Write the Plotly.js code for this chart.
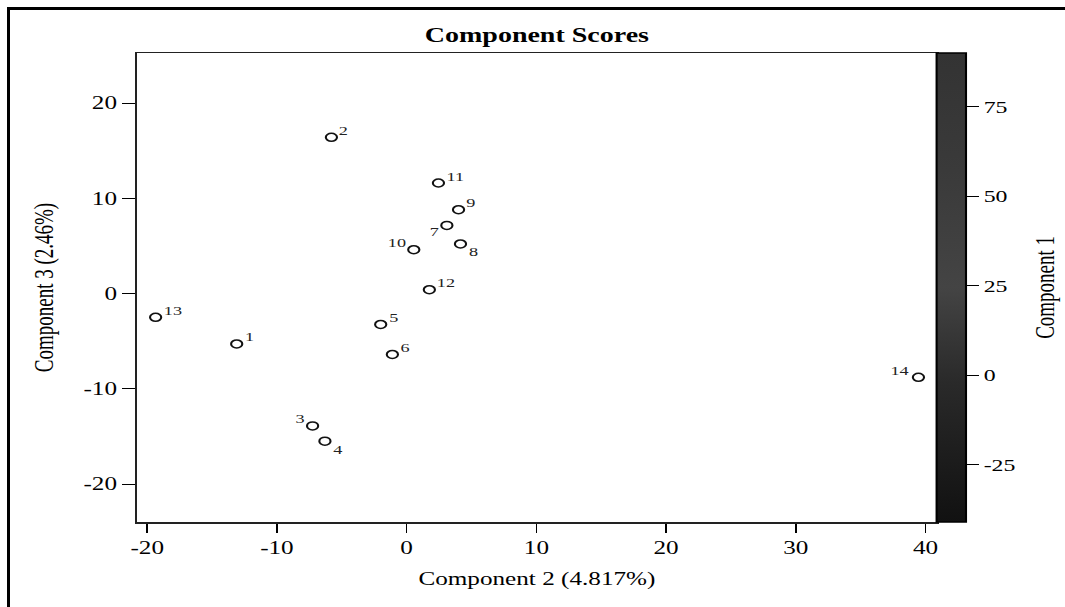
<!DOCTYPE html>
<html>
<head>
<meta charset="utf-8">
<script src="https://cdn.plot.ly/plotly-3.0.1.min.js"></script>
<style>
  html, body { margin: 0; padding: 0; background: #fff; overflow: hidden; }
  #frame { position: absolute; left: 7px; top: 7px; width: 1058px; height: 597px;
           border-left: 3px solid #000; border-top: 3px solid #000; border-bottom: 1px solid #aaa; }
  #chart { position: absolute; left: 0; top: 0; width: 761px; height: 607px;
           transform: scaleX(1.4); transform-origin: 0 0; }
</style>
</head>
<body>
<div id="frame"></div>
<div id="chart"></div>
<script>
// Observation labels
const labels = ["1","2","3","4","5","6","7","8","9","10","11","12","13","14"];
// Component 2 scores (x)
const comp2 = [-13.1, -5.8, -7.25, -6.3, -2.0, -1.1, 3.1, 4.15, 4.0, 0.55, 2.45, 1.75, -19.35, 39.45];
// Component 3 scores (y)
const comp3 = [-5.3, 16.4, -13.9, -15.5, -3.25, -6.4, 7.15, 5.2, 8.8, 4.6, 11.6, 0.4, -2.5, -8.8];
// Label position relative to each point
const labelPos = ["tr","tr","tl","br","tr","tr","bl","br","tr","tl","tr","tr","tr","tl"];
// Axis ticks
const xTickVals = [-20, -10, 0, 10, 20, 30, 40];
const xTickText = ["-20", "-10", "0", "10", "20", "30", "40"];
const yTickVals = [-20, -10, 0, 10, 20];
const yTickText = ["-20", "-10", "0", "10", "20"];
// Colour scale (Component 1)
const comp1Range = [-41, 90];
const comp1Ticks = [-25, 0, 25, 50, 75];
const comp1TickText = ["-25", "0", "25", "50", "75"];

const serif = "Liberation Serif, Times New Roman, serif";

const posStyle = {
  tr: { xanchor: "left",  xshift: 3.6,  yshift: 7 },
  br: { xanchor: "left",  xshift: 3.6,  yshift: -8 },
  tl: { xanchor: "right", xshift: -3.6, yshift: 7 },
  bl: { xanchor: "right", xshift: -3.2, yshift: -6 }
};

const points = {
  type: "scatter", mode: "markers",
  x: comp2, y: comp3, text: labels,
  marker: { symbol: "circle-open", size: 8, color: "#111", line: { width: 1.5, color: "#111" } },
  showlegend: false, cliponaxis: false, hoverinfo: "x+y+text"
};

const scaleTrace = {
  type: "scatter", mode: "markers", x: [null], y: [null], showlegend: false, hoverinfo: "skip",
  marker: {
    color: [comp1Range[0]], cmin: comp1Range[0], cmax: comp1Range[1],
    colorscale: [[0, "#111111"], [0.3, "#2a2a2a"], [0.5, "#444444"], [0.75, "#3a3a3a"], [1, "#333333"]],
    showscale: true,
    colorbar: {
      x: 1.0, xanchor: "left", xpad: 0, ypad: 0, y: 0.5, yanchor: "middle",
      len: 1, lenmode: "fraction", thickness: 21.4, thicknessmode: "pixels",
      outlinewidth: 1.5, outlinecolor: "#000",
      tickmode: "array", tickvals: comp1Ticks, ticktext: comp1TickText,
      ticks: "outside", ticklen: 9, tickwidth: 1, tickcolor: "#000",
      tickfont: { family: serif, size: 17, color: "#000" }
    }
  }
};

const annotations = labels.map((t, i) => Object.assign({
  x: comp2[i], y: comp3[i], xref: "x", yref: "y", text: t, showarrow: false,
  yanchor: "middle", font: { family: serif, size: 13, color: "#222" }
}, posStyle[labelPos[i]]));

annotations.push({
  xref: "paper", yref: "paper", x: 1.1355, y: 0.5, xanchor: "center", yanchor: "middle",
  text: "Component 1", textangle: -90, showarrow: false,
  font: { family: serif, size: 19, color: "#000" }
});

const layout = {
  width: 761, height: 607,
  paper_bgcolor: "rgba(0,0,0,0)", plot_bgcolor: "#fff",
  margin: { l: 98, r: 92, t: 53, b: 85 },
  title: { text: "<b>Component Scores</b>", font: { family: serif, size: 20, color: "#000" },
           x: 0.5, xref: "paper", y: 0.942, yref: "container", yanchor: "middle" },
  xaxis: {
    range: [-20.77, 40.85], tickmode: "array", tickvals: xTickVals, ticktext: xTickText,
    showgrid: false, zeroline: false,
    showline: true, linecolor: "#222", linewidth: 1.5, mirror: true,
    ticks: "outside", ticklen: 9, tickcolor: "#000",
    tickfont: { family: serif, size: 18, color: "#000" },
    title: { text: "Component 2 (4.817%)", font: { family: serif, size: 18, color: "#000" }, standoff: 15 }
  },
  yaxis: {
    range: [-23.99, 25.25], tickmode: "array", tickvals: yTickVals, ticktext: yTickText,
    showgrid: false, zeroline: false,
    showline: true, linecolor: "#222", linewidth: 1.5, mirror: true,
    ticks: "outside", ticklen: 9.3, tickcolor: "#000",
    tickfont: { family: serif, size: 18, color: "#000" },
    title: { text: "Component 3 (2.46%)", font: { family: serif, size: 19, color: "#000" }, standoff: 16 }
  },
  annotations: annotations
};

Plotly.newPlot("chart", [points, scaleTrace], layout, { displayModeBar: false, staticPlot: true });
</script>
</body>
</html>
